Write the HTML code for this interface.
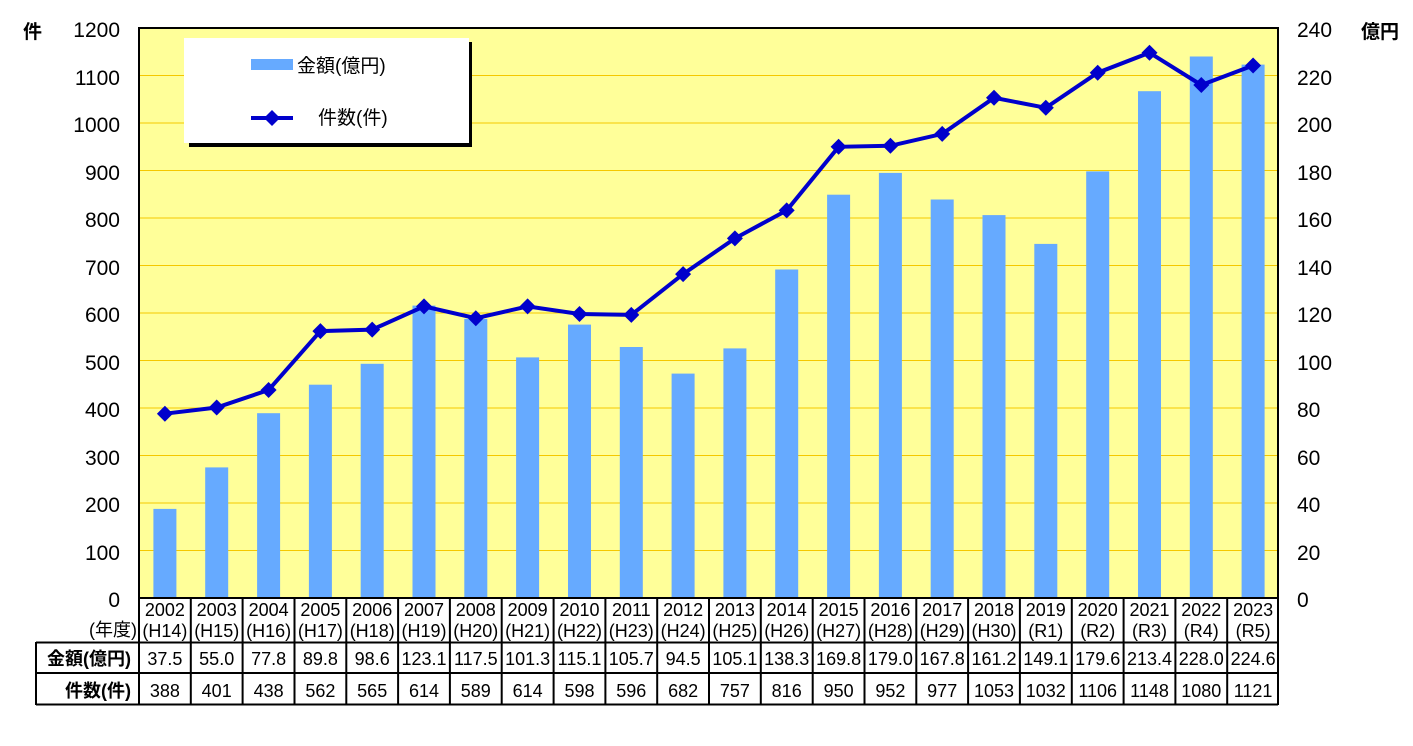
<!DOCTYPE html>
<html><head><meta charset="utf-8"><style>
html,body{margin:0;padding:0;background:#fff;}
svg{display:block;font-family:"Liberation Sans","Noto Sans CJK JP",sans-serif;}
</style></head><body>
<svg width="1413" height="746" viewBox="0 0 1413 746" xmlns="http://www.w3.org/2000/svg">
<rect x="139" y="28" width="1139" height="570" fill="#ffff99"/>
<g stroke="#f5c800" stroke-width="1">
<line x1="139" x2="1278" y1="75.5" y2="75.5"/><line x1="139" x2="1278" y1="123" y2="123"/>
<line x1="139" x2="1278" y1="170.5" y2="170.5"/><line x1="139" x2="1278" y1="218" y2="218"/>
<line x1="139" x2="1278" y1="265.5" y2="265.5"/><line x1="139" x2="1278" y1="313" y2="313"/>
<line x1="139" x2="1278" y1="360.5" y2="360.5"/><line x1="139" x2="1278" y1="408" y2="408"/>
<line x1="139" x2="1278" y1="455.5" y2="455.5"/><line x1="139" x2="1278" y1="503" y2="503"/>
<line x1="139" x2="1278" y1="550.5" y2="550.5"/>
</g>
<g fill="#66aaff">
<rect x="153.4" y="508.9" width="23" height="89.1"/>
<rect x="205.2" y="467.4" width="23" height="130.6"/>
<rect x="257.1" y="413.2" width="23" height="184.8"/>
<rect x="308.9" y="384.7" width="23" height="213.3"/>
<rect x="360.7" y="363.8" width="23" height="234.2"/>
<rect x="412.5" y="305.6" width="23" height="292.4"/>
<rect x="464.3" y="318.9" width="23" height="279.1"/>
<rect x="516.1" y="357.4" width="23" height="240.6"/>
<rect x="568.0" y="324.6" width="23" height="273.4"/>
<rect x="619.8" y="347.0" width="23" height="251.0"/>
<rect x="671.6" y="373.6" width="23" height="224.4"/>
<rect x="723.4" y="348.4" width="23" height="249.6"/>
<rect x="775.2" y="269.5" width="23" height="328.5"/>
<rect x="827.1" y="194.7" width="23" height="403.3"/>
<rect x="878.9" y="172.9" width="23" height="425.1"/>
<rect x="930.7" y="199.5" width="23" height="398.5"/>
<rect x="982.5" y="215.1" width="23" height="382.9"/>
<rect x="1034.3" y="243.9" width="23" height="354.1"/>
<rect x="1086.2" y="171.4" width="23" height="426.6"/>
<rect x="1138.0" y="91.2" width="23" height="506.8"/>
<rect x="1189.8" y="56.5" width="23" height="541.5"/>
<rect x="1241.6" y="64.6" width="23" height="533.4"/>
</g>
<polyline fill="none" stroke="#0000cc" stroke-width="4" points="164.9,413.7 216.7,407.5 268.6,390 320.4,331.1 372.2,329.6 424,306.4 475.8,318.2 527.6,306.4 579.5,314 631.3,314.9 683.1,274.1 734.9,238.4 786.7,210.4 838.6,146.8 890.4,145.8 942.2,133.9 994,97.8 1045.8,107.8 1097.7,72.7 1149.5,52.7 1201.3,85 1253.1,65.5"/>
<g fill="#0000cc">
<path d="M164.9,405.7l8,8l-8,8l-8,-8z"/><path d="M216.7,399.5l8,8l-8,8l-8,-8z"/>
<path d="M268.6,382l8,8l-8,8l-8,-8z"/><path d="M320.4,323.1l8,8l-8,8l-8,-8z"/>
<path d="M372.2,321.6l8,8l-8,8l-8,-8z"/><path d="M424,298.4l8,8l-8,8l-8,-8z"/>
<path d="M475.8,310.2l8,8l-8,8l-8,-8z"/><path d="M527.6,298.4l8,8l-8,8l-8,-8z"/>
<path d="M579.5,306l8,8l-8,8l-8,-8z"/><path d="M631.3,306.9l8,8l-8,8l-8,-8z"/>
<path d="M683.1,266.1l8,8l-8,8l-8,-8z"/><path d="M734.9,230.4l8,8l-8,8l-8,-8z"/>
<path d="M786.7,202.4l8,8l-8,8l-8,-8z"/><path d="M838.6,138.8l8,8l-8,8l-8,-8z"/>
<path d="M890.4,137.8l8,8l-8,8l-8,-8z"/><path d="M942.2,125.9l8,8l-8,8l-8,-8z"/>
<path d="M994,89.8l8,8l-8,8l-8,-8z"/><path d="M1045.8,99.8l8,8l-8,8l-8,-8z"/>
<path d="M1097.7,64.7l8,8l-8,8l-8,-8z"/><path d="M1149.5,44.7l8,8l-8,8l-8,-8z"/>
<path d="M1201.3,77l8,8l-8,8l-8,-8z"/><path d="M1253.1,57.5l8,8l-8,8l-8,-8z"/>
</g>
<rect x="139" y="28" width="1139" height="570" fill="none" stroke="#000" stroke-width="2"/>
<!-- legend -->
<rect x="189" y="42" width="283" height="105" fill="#000"/>
<rect x="184" y="38" width="285" height="105" fill="#fff"/>
<rect x="251" y="59" width="42" height="11" fill="#66aaff"/>
<text x="297" y="72" font-size="19" fill="#000">金額(億円)</text>
<line x1="251" x2="293" y1="118" y2="118" stroke="#0000cc" stroke-width="4"/>
<path d="M272,110l8,8l-8,8l-8,-8z" fill="#0000cc"/>
<text x="318" y="124" font-size="19" fill="#000">件数(件)</text>
<!-- axes labels -->
<g font-size="21" fill="#000" text-anchor="end">
<text x="120" y="37">1200</text><text x="120" y="85">1100</text><text x="120" y="132">1000</text>
<text x="120" y="180">900</text><text x="120" y="227">800</text><text x="120" y="275">700</text>
<text x="120" y="322">600</text><text x="120" y="370">500</text><text x="120" y="417">400</text>
<text x="120" y="465">300</text><text x="120" y="512">200</text><text x="120" y="560">100</text>
<text x="120" y="607">0</text>
</g>
<g font-size="21" fill="#000" text-anchor="start">
<text x="1297" y="37">240</text><text x="1297" y="85">220</text><text x="1297" y="132">200</text>
<text x="1297" y="180">180</text><text x="1297" y="227">160</text><text x="1297" y="275">140</text>
<text x="1297" y="322">120</text><text x="1297" y="370">100</text><text x="1297" y="417">80</text>
<text x="1297" y="465">60</text><text x="1297" y="512">40</text><text x="1297" y="560">20</text>
<text x="1297" y="607">0</text>
</g>
<text x="23" y="38" font-size="19" font-weight="bold">件</text>
<text x="1361" y="38" font-size="19" font-weight="bold">億円</text>
<!-- table -->
<g stroke="#000" stroke-width="2" fill="none">
<line x1="139" x2="1278" y1="642.5" y2="642.5"/>
<line x1="36" x2="1278" y1="642.5" y2="642.5"/>
<line x1="36" x2="1278" y1="673" y2="673"/>
<line x1="36" x2="1278" y1="704.5" y2="704.5"/>
<line x1="36" x2="36" y1="642" y2="705"/>
<line x1="139" x2="139" y1="598" y2="705"/>
<line x1="190.8" x2="190.8" y1="598" y2="705"/><line x1="242.6" x2="242.6" y1="598" y2="705"/>
<line x1="294.5" x2="294.5" y1="598" y2="705"/><line x1="346.3" x2="346.3" y1="598" y2="705"/>
<line x1="398.1" x2="398.1" y1="598" y2="705"/><line x1="449.9" x2="449.9" y1="598" y2="705"/>
<line x1="501.7" x2="501.7" y1="598" y2="705"/><line x1="553.6" x2="553.6" y1="598" y2="705"/>
<line x1="605.4" x2="605.4" y1="598" y2="705"/><line x1="657.2" x2="657.2" y1="598" y2="705"/>
<line x1="709" x2="709" y1="598" y2="705"/><line x1="760.8" x2="760.8" y1="598" y2="705"/>
<line x1="812.7" x2="812.7" y1="598" y2="705"/><line x1="864.5" x2="864.5" y1="598" y2="705"/>
<line x1="916.3" x2="916.3" y1="598" y2="705"/><line x1="968.1" x2="968.1" y1="598" y2="705"/>
<line x1="1019.9" x2="1019.9" y1="598" y2="705"/><line x1="1071.8" x2="1071.8" y1="598" y2="705"/>
<line x1="1123.6" x2="1123.6" y1="598" y2="705"/><line x1="1175.4" x2="1175.4" y1="598" y2="705"/>
<line x1="1227.2" x2="1227.2" y1="598" y2="705"/><line x1="1278" x2="1278" y1="598" y2="705"/>
</g>
<text x="137" y="636" font-size="18" text-anchor="end">(年度)</text>
<text x="131" y="665" font-size="18" font-weight="bold" text-anchor="end">金額(億円)</text>
<text x="131" y="697" font-size="18" font-weight="bold" text-anchor="end">件数(件)</text>
<g font-size="18" text-anchor="middle" fill="#000">
<text x="164.9" y="616">2002</text><text x="216.7" y="616">2003</text><text x="268.6" y="616">2004</text><text x="320.4" y="616">2005</text><text x="372.2" y="616">2006</text><text x="424" y="616">2007</text><text x="475.8" y="616">2008</text><text x="527.6" y="616">2009</text><text x="579.5" y="616">2010</text><text x="631.3" y="616">2011</text><text x="683.1" y="616">2012</text><text x="734.9" y="616">2013</text><text x="786.7" y="616">2014</text><text x="838.6" y="616">2015</text><text x="890.4" y="616">2016</text><text x="942.2" y="616">2017</text><text x="994" y="616">2018</text><text x="1045.8" y="616">2019</text><text x="1097.7" y="616">2020</text><text x="1149.5" y="616">2021</text><text x="1201.3" y="616">2022</text><text x="1253.1" y="616">2023</text>
<text x="164.9" y="637">(H14)</text><text x="216.7" y="637">(H15)</text><text x="268.6" y="637">(H16)</text><text x="320.4" y="637">(H17)</text><text x="372.2" y="637">(H18)</text><text x="424" y="637">(H19)</text><text x="475.8" y="637">(H20)</text><text x="527.6" y="637">(H21)</text><text x="579.5" y="637">(H22)</text><text x="631.3" y="637">(H23)</text><text x="683.1" y="637">(H24)</text><text x="734.9" y="637">(H25)</text><text x="786.7" y="637">(H26)</text><text x="838.6" y="637">(H27)</text><text x="890.4" y="637">(H28)</text><text x="942.2" y="637">(H29)</text><text x="994" y="637">(H30)</text><text x="1045.8" y="637">(R1)</text><text x="1097.7" y="637">(R2)</text><text x="1149.5" y="637">(R3)</text><text x="1201.3" y="637">(R4)</text><text x="1253.1" y="637">(R5)</text>
<text x="164.9" y="665">37.5</text><text x="216.7" y="665">55.0</text><text x="268.6" y="665">77.8</text><text x="320.4" y="665">89.8</text><text x="372.2" y="665">98.6</text><text x="424" y="665">123.1</text><text x="475.8" y="665">117.5</text><text x="527.6" y="665">101.3</text><text x="579.5" y="665">115.1</text><text x="631.3" y="665">105.7</text><text x="683.1" y="665">94.5</text><text x="734.9" y="665">105.1</text><text x="786.7" y="665">138.3</text><text x="838.6" y="665">169.8</text><text x="890.4" y="665">179.0</text><text x="942.2" y="665">167.8</text><text x="994" y="665">161.2</text><text x="1045.8" y="665">149.1</text><text x="1097.7" y="665">179.6</text><text x="1149.5" y="665">213.4</text><text x="1201.3" y="665">228.0</text><text x="1253.1" y="665">224.6</text>
<text x="164.9" y="697">388</text><text x="216.7" y="697">401</text><text x="268.6" y="697">438</text><text x="320.4" y="697">562</text><text x="372.2" y="697">565</text><text x="424" y="697">614</text><text x="475.8" y="697">589</text><text x="527.6" y="697">614</text><text x="579.5" y="697">598</text><text x="631.3" y="697">596</text><text x="683.1" y="697">682</text><text x="734.9" y="697">757</text><text x="786.7" y="697">816</text><text x="838.6" y="697">950</text><text x="890.4" y="697">952</text><text x="942.2" y="697">977</text><text x="994" y="697">1053</text><text x="1045.8" y="697">1032</text><text x="1097.7" y="697">1106</text><text x="1149.5" y="697">1148</text><text x="1201.3" y="697">1080</text><text x="1253.1" y="697">1121</text>
</g>
</svg>
</body></html>
